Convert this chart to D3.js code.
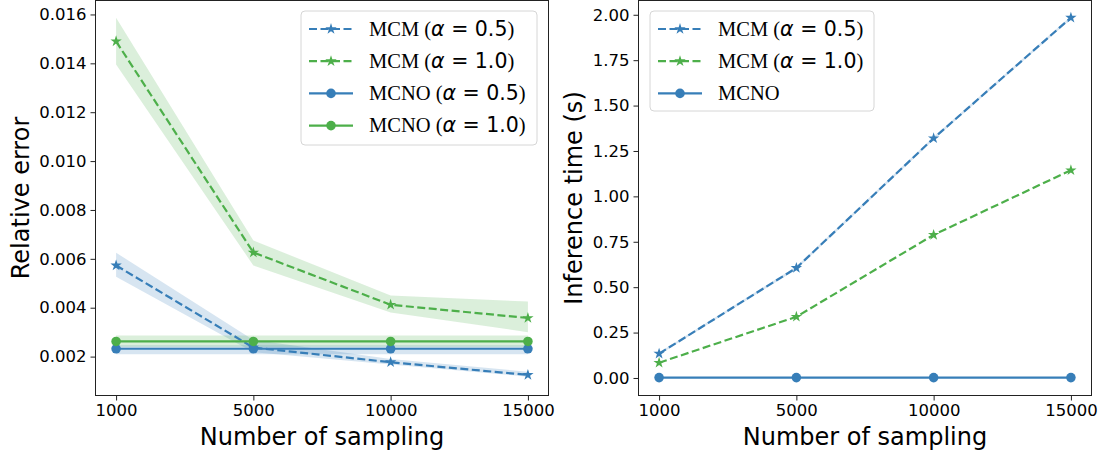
<!DOCTYPE html>
<html>
<head>
<meta charset="utf-8">
<script src="https://cdn.jsdelivr.net/npm/d3@7"></script>
<style>
  body { margin: 0; background: #fff; }
  svg text { fill: #000; }
</style>
</head>
<body>
<svg id="chart" width="1105" height="453"></svg>
<script>
// categories on the x axis (evenly spaced, not numeric)
var samples = ['1000', '5000', '10000', '15000'];

// left panel: relative error (mean, lower, upper)
var mcm05Err = [0.00573, 0.00237, 0.00177, 0.00125];
var mcm05ErrLo = [0.00527, 0.00218, 0.00168, 0.00118];
var mcm05ErrHi = [0.00625, 0.00268, 0.00190, 0.00138];
var mcm10Err = [0.0149, 0.00626, 0.00412, 0.00358];
var mcm10ErrLo = [0.01395, 0.00573, 0.00380, 0.00300];
var mcm10ErrHi = [0.01587, 0.00675, 0.00450, 0.00425];
var mcno05Err = [0.00232, 0.00232, 0.00232, 0.00232];
var mcno05ErrLo = [0.00210, 0.00210, 0.00210, 0.00210];
var mcno05ErrHi = [0.00246, 0.00246, 0.00246, 0.00246];
var mcno10Err = [0.00262, 0.00262, 0.00262, 0.00262];
var mcno10ErrLo = [0.00240, 0.00240, 0.00240, 0.00240];
var mcno10ErrHi = [0.00286, 0.00286, 0.00286, 0.00286];
var errTicks = [0.002, 0.004, 0.006, 0.008, 0.010, 0.012, 0.014, 0.016];

// right panel: inference time in seconds
var mcm05Time = [0.134, 0.606, 1.32, 1.984];
var mcm05TimeLo = [0.128, 0.598, 1.312, 1.976];
var mcm05TimeHi = [0.140, 0.614, 1.328, 1.992];
var mcm10Time = [0.084, 0.337, 0.788, 1.144];
var mcno05Time = [0.002, 0.002, 0.002, 0.002];
var timeTicks = [0.00, 0.25, 0.50, 0.75, 1.00, 1.25, 1.50, 1.75, 2.00];

var BLUE = '#377eb8';
var GREEN = '#4daf4a';

var svg = d3.select('#chart');

function drawPanel(cfg) {
  var x = d3.scalePoint().domain(samples).range([cfg.left, cfg.right]).padding(0.15);
  var y = d3.scaleLinear().domain(cfg.yDomain).range([cfg.bottom, cfg.top]);
  var g = svg.append('g');

  // bands
  cfg.series.forEach(function(s) {
    if (!s.lo) { return; }
    var area = d3.area()
      .x(function(d, i) { return x(samples[i]); })
      .y0(function(d, i) { return y(s.lo[i]); })
      .y1(function(d, i) { return y(s.hi[i]); });
    g.append('path')
      .attr('d', area(s.values))
      .attr('fill', s.color)
      .attr('fill-opacity', 0.2);
  });

  // lines and markers
  cfg.series.forEach(function(s) {
    var line = d3.line()
      .x(function(d, i) { return x(samples[i]); })
      .y(function(d) { return y(d); });
    g.append('path')
      .attr('d', line(s.values))
      .attr('fill', 'none')
      .attr('stroke', s.color)
      .attr('stroke-width', 2.2)
      .attr('stroke-dasharray', s.dashed ? '8,3.5' : null);
    var sym = s.dashed ? d3.symbol().type(d3.symbolStar).size(40) : d3.symbol().type(d3.symbolCircle).size(72);
    g.selectAll(null)
      .data(s.values)
      .enter()
      .append('path')
      .attr('d', sym)
      .attr('transform', function(d, i) { return 'translate(' + x(samples[i]) + ',' + y(d) + ')'; })
      .attr('fill', s.color);
  });

  // axes
  var xAxis = d3.axisBottom(x).tickSize(5).tickPadding(4);
  var yAxis = d3.axisLeft(y).tickValues(cfg.ticks).tickFormat(cfg.fmt).tickSize(5).tickPadding(4);
  var gx = g.append('g').attr('transform', 'translate(0,' + cfg.bottom + ')').call(xAxis);
  var gy = g.append('g').attr('transform', 'translate(' + cfg.left + ',0)').call(yAxis);
  [gx, gy].forEach(function(a) {
    a.select('.domain').remove();
    a.selectAll('text')
      .style('font-family', 'DejaVu Sans')
      .style('font-size', '16.5px')
      .attr('fill', '#000');
    a.selectAll('line').attr('stroke', '#222');
  });

  g.append('rect')
    .attr('x', cfg.left)
    .attr('y', cfg.top)
    .attr('width', cfg.right - cfg.left)
    .attr('height', cfg.bottom - cfg.top)
    .attr('fill', 'none')
    .attr('stroke', '#222')
    .attr('stroke-width', 1);

  g.append('text')
    .attr('x', (cfg.left + cfg.right) / 2)
    .attr('y', 445)
    .attr('text-anchor', 'middle')
    .style('font-family', 'DejaVu Sans')
    .style('font-size', '24px')
    .text('Number of sampling');

  g.append('text')
    .attr('transform', 'translate(' + cfg.ylabelX + ',' + ((cfg.top + cfg.bottom) / 2) + ') rotate(-90)')
    .attr('text-anchor', 'middle')
    .style('font-family', 'DejaVu Sans')
    .style('font-size', '24px')
    .text(cfg.ylabel);

  // legend
  var lg = g.append('g');
  lg.append('rect')
    .attr('x', cfg.legend.x)
    .attr('y', cfg.legend.y)
    .attr('width', cfg.legend.w)
    .attr('height', cfg.legend.h)
    .attr('rx', 4)
    .attr('fill', '#fff')
    .attr('fill-opacity', 0.8)
    .attr('stroke', '#d6d6d6');
  cfg.legend.items.forEach(function(it, i) {
    var yy = cfg.legend.y + 18 + i * 32.2;
    var hx = cfg.legend.x + 8;
    lg.append('line')
      .attr('x1', hx).attr('x2', hx + 44)
      .attr('y1', yy).attr('y2', yy)
      .attr('stroke', it.color)
      .attr('stroke-width', 2.2)
      .attr('stroke-dasharray', it.dashed ? '8,3.5' : null);
    var sym = it.dashed ? d3.symbol().type(d3.symbolStar).size(40) : d3.symbol().type(d3.symbolCircle).size(72);
    lg.append('path')
      .attr('d', sym)
      .attr('transform', 'translate(' + (hx + 22) + ',' + yy + ')')
      .attr('fill', it.color);
    var t = lg.append('text')
      .attr('x', hx + 60)
      .attr('y', yy + 6.5)
      .style('font-family', 'Liberation Serif')
      .style('font-size', '20.5px');
    t.append('tspan').text(it.name);
    if (it.alpha) {
      t.append('tspan').text(' (');
      t.append('tspan').style('font-family', 'DejaVu Sans').style('font-style', 'italic').text('α');
      t.append('tspan').style('font-family', 'DejaVu Sans').text(' = ' + it.alpha);
      t.append('tspan').text(')');
    }
  });
}

drawPanel({
  left: 95.5, right: 548.5, top: 0.5, bottom: 395.5,
  yDomain: [0.000408, 0.016571],
  ticks: errTicks,
  fmt: d3.format('.3f'),
  ylabel: 'Relative error',
  ylabelX: 29,
  series: [
    { values: mcm05Err, lo: mcm05ErrLo, hi: mcm05ErrHi, color: BLUE, dashed: true },
    { values: mcm10Err, lo: mcm10ErrLo, hi: mcm10ErrHi, color: GREEN, dashed: true },
    { values: mcno05Err, lo: mcno05ErrLo, hi: mcno05ErrHi, color: BLUE, dashed: false },
    { values: mcno10Err, lo: mcno10ErrLo, hi: mcno10ErrHi, color: GREEN, dashed: false }
  ],
  legend: {
    x: 301, y: 11, w: 236, h: 134,
    items: [
      { name: 'MCM', alpha: '0.5', color: BLUE, dashed: true },
      { name: 'MCM', alpha: '1.0', color: GREEN, dashed: true },
      { name: 'MCNO', alpha: '0.5', color: BLUE, dashed: false },
      { name: 'MCNO', alpha: '1.0', color: GREEN, dashed: false }
    ]
  }
});

drawPanel({
  left: 638.5, right: 1091.5, top: 0.5, bottom: 395.5,
  yDomain: [-0.0965, 2.0786],
  ticks: timeTicks,
  fmt: d3.format('.2f'),
  ylabel: 'Inference time (s)',
  ylabelX: 582,
  series: [
    { values: mcm05Time, lo: mcm05TimeLo, hi: mcm05TimeHi, color: BLUE, dashed: true },
    { values: mcm10Time, color: GREEN, dashed: true },
    { values: mcno05Time, color: BLUE, dashed: false }
  ],
  legend: {
    x: 650, y: 11, w: 224, h: 100,
    items: [
      { name: 'MCM', alpha: '0.5', color: BLUE, dashed: true },
      { name: 'MCM', alpha: '1.0', color: GREEN, dashed: true },
      { name: 'MCNO', color: BLUE, dashed: false }
    ]
  }
});
</script>
</body>
</html>
